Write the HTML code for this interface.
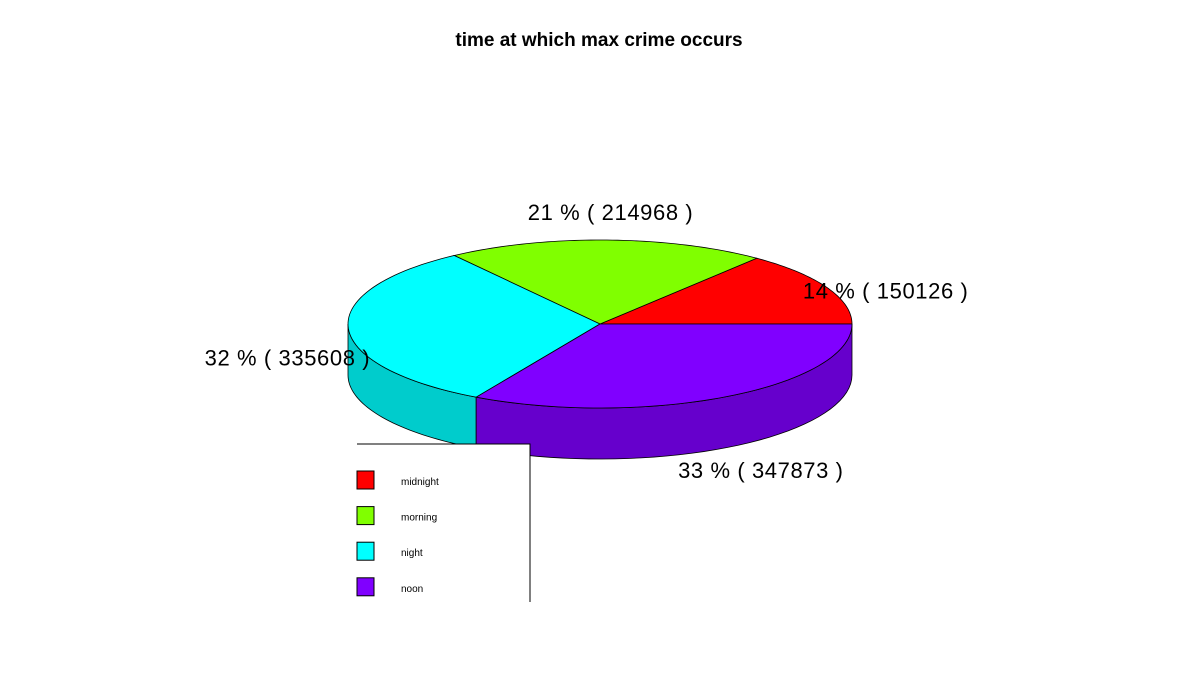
<!DOCTYPE html>
<html><head><meta charset="utf-8"><style>
body{margin:0;background:#fff}
svg{display:block;font-family:"Liberation Sans",Arial,sans-serif}
</style></head><body>
<svg id="chart" width="1200" height="700" viewBox="0 0 1200 700">
<rect width="1200" height="700" fill="#fff"/>
<text x="599" y="46" text-anchor="middle" font-size="19" font-weight="bold">time at which max crime occurs</text>
<g id="pie"></g>
<g id="labels"></g>
<g id="legend"></g>
</svg>
<script>
const categories = ["midnight","morning","night","noon"];
const values = [150126,214968,335608,347873];
const topColors = ["#FF0000","#80FF00","#00FFFF","#8000FF"];
const sideColors = ["#CC0000","#66CC00","#00CCCC","#6600CC"];

const NS="http://www.w3.org/2000/svg";
const cx=600, cy=324, rx=252, ry=84, h=51;
const total=values.reduce((a,b)=>a+b,0);
const pie=document.getElementById('pie');
const lab=document.getElementById('labels');
const leg=document.getElementById('legend');
function mk(t,a,p){const e=document.createElementNS(NS,t);for(const k in a)e.setAttribute(k,a[k]);p.appendChild(e);return e;}
function pt(a,dy){return [cx+rx*Math.cos(a), cy-ry*Math.sin(a)+(dy||0)];}
let angles=[0];
values.forEach(v=>angles.push(angles[angles.length-1]+v/total*2*Math.PI));
values.forEach((v,i)=>{
  let a0=Math.max(angles[i],Math.PI), a1=Math.min(angles[i+1],2*Math.PI);
  if(a1<=a0) return;
  let pts=[];
  const n=40;
  for(let k=0;k<=n;k++){const a=a0+(a1-a0)*k/n;pts.push(pt(a));}
  for(let k=n;k>=0;k--){const a=a0+(a1-a0)*k/n;pts.push(pt(a,h));}
  const s=mk('polygon',{points:pts.map(p=>p.join(',')).join(' '),fill:sideColors[i],stroke:'#000','stroke-width':0.8},pie);
  
  
});
values.forEach((v,i)=>{
  const a0=angles[i],a1=angles[i+1];
  let pts=[[cx,cy]];
  const n=60;
  for(let k=0;k<=n;k++){const a=a0+(a1-a0)*k/n;pts.push(pt(a));}
  const s=mk('polygon',{points:pts.map(p=>p.join(',')).join(' '),fill:topColors[i],stroke:'#000','stroke-width':0.8},pie);
  
  
  const m=(a0+a1)/2, sn=Math.sin(m);
  const x=cx+1.25*rx*Math.cos(m)+2, y=cy-1.25*ry*sn+h*(1-sn)/2+9-8*sn;
  const pct=Math.round(v/total*100);
  const t=mk('text',{x:x,y:y,'text-anchor':'middle','font-size':22,'letter-spacing':0.6},lab);
  t.textContent=pct+' % ( '+v+' )';
  
  
});
mk('rect',{x:357,y:444,width:173,height:160,fill:'#fff'},leg);
mk('path',{d:'M357,444 H530 V602',fill:'none',stroke:'#000','stroke-width':1},leg);
categories.forEach((c,i)=>{
  const y=471+i*35.6;
  const r=mk('rect',{x:357,y:y,width:17,height:18,fill:topColors[i],stroke:'#000','stroke-width':1},leg);
  
  
  const t=mk('text',{x:401,y:y+14,'font-size':10},leg);
  t.textContent=c;
  
  
});
</script>
</body></html>
